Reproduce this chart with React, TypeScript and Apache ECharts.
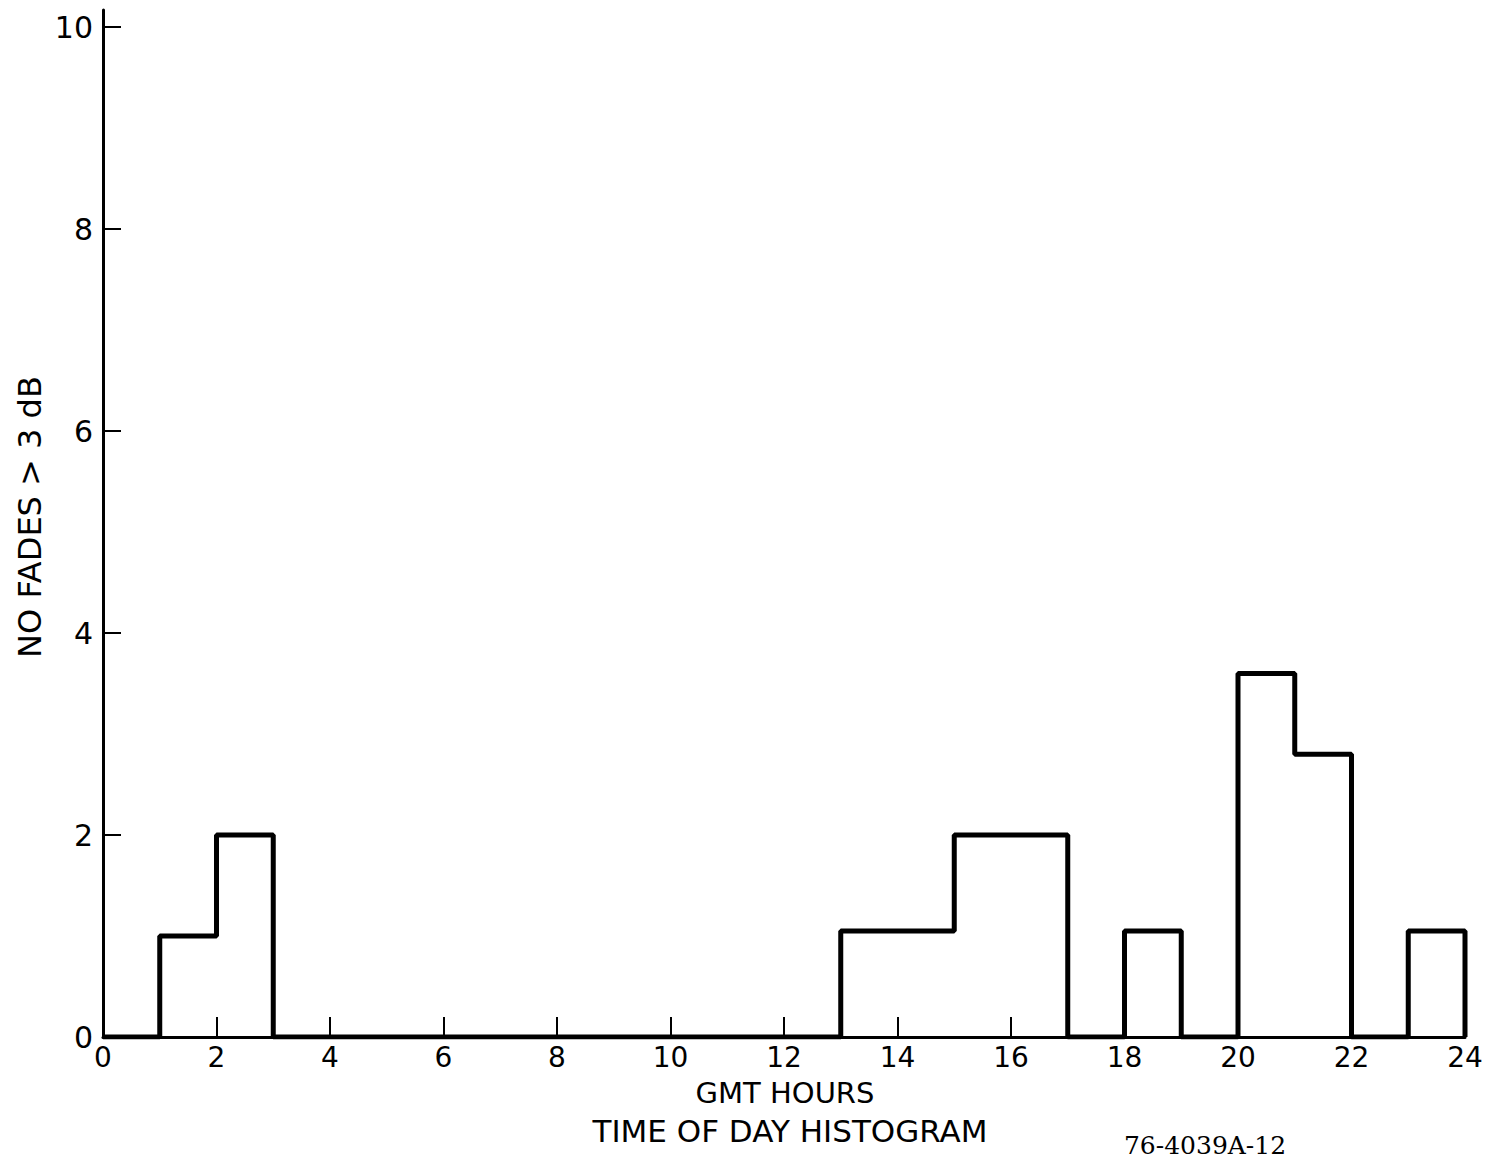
import React, { useEffect, useRef } from "react";
import * as echarts from "echarts";

// Hour bins (start of each hour) and fade counts per hour
const hours: number[] = [0, 1, 2, 3, 4, 5, 6, 7, 8, 9, 10, 11, 12, 13, 14, 15, 16, 17, 18, 19, 20, 21, 22, 23];
const counts: number[] = [0, 1, 2, 0, 0, 0, 0, 0, 0, 0, 0, 0, 0, 1.05, 1.05, 2, 2, 0, 1.05, 0, 3.6, 2.8, 0, 1.05];
const xTicks: number[] = [0, 2, 4, 6, 8, 10, 12, 14, 16, 18, 20, 22, 24];
const yTicks: number[] = [0, 2, 4, 6, 8, 10];

const xTitle = "GMT HOURS";
const subTitle = "TIME OF DAY HISTOGRAM";
const yTitle = "NO FADES > 3 dB";
const figId = "76-4039A-12";

export default function App() {
  const ref = useRef<HTMLDivElement>(null);
  useEffect(() => {
    if (!ref.current) return;
    const chart = echarts.init(ref.current, null, { renderer: "svg" });
    const data: number[][] = hours.map((h, i) => [h, counts[i]]);
    data.push([24, 0]);
    const font = "DejaVu Sans";
    chart.setOption({
      animation: false,
      backgroundColor: "#ffffff",
      grid: { left: 103, right: 28, top: 10, bottom: 126 },
      xAxis: {
        type: "value",
        min: 0,
        max: 24,
        interval: 2,
        axisLine: { show: true, lineStyle: { color: "#000", width: 3 } },
        axisTick: { show: true, inside: true, length: 20, lineStyle: { color: "#000", width: 2 } },
        splitLine: { show: false },
        axisLabel: {
          color: "#000",
          fontFamily: font,
          fontSize: 28,
          margin: 6,
          formatter: (v: number) => (xTicks.includes(v) ? String(v) : ""),
        },
      },
      yAxis: {
        type: "value",
        min: 0,
        max: 10.17,
        interval: 2,
        axisLine: { show: true, lineStyle: { color: "#000", width: 3 } },
        axisTick: { show: true, inside: true, length: 18, lineStyle: { color: "#000", width: 2 } },
        splitLine: { show: false },
        axisLabel: {
          color: "#000",
          fontFamily: font,
          fontSize: 30,
          margin: 10,
          showMaxLabel: false,
          formatter: (v: number) => (yTicks.includes(v) ? String(v) : ""),
        },
      },
      series: [
        {
          type: "line",
          step: "end",
          data,
          symbol: "none",
          lineStyle: { color: "#000", width: 5 },
        },
      ],
      graphic: [
        {
          type: "text",
          x: 785,
          y: 1093,
          style: { text: xTitle, fontFamily: font, fontSize: 29, fill: "#000", align: "center", verticalAlign: "middle" },
        },
        {
          type: "text",
          x: 790,
          y: 1131,
          style: { text: subTitle, fontFamily: font, fontSize: 31, fill: "#000", align: "center", verticalAlign: "middle" },
        },
        {
          type: "text",
          x: 1205,
          y: 1145,
          style: { text: figId, fontFamily: "DejaVu Serif", fontSize: 25, fill: "#000", align: "center", verticalAlign: "middle" },
        },
        {
          type: "text",
          x: 30,
          y: 517,
          rotation: Math.PI / 2,
          style: { text: yTitle, fontFamily: font, fontSize: 32, fill: "#000", align: "center", verticalAlign: "middle" },
        },
      ],
    });
    return () => chart.dispose();
  }, []);
  return (
    <div
      ref={ref}
      style={{ position: "absolute", left: 0, top: 0, width: 1493, height: 1163 }}
    />
  );
}
